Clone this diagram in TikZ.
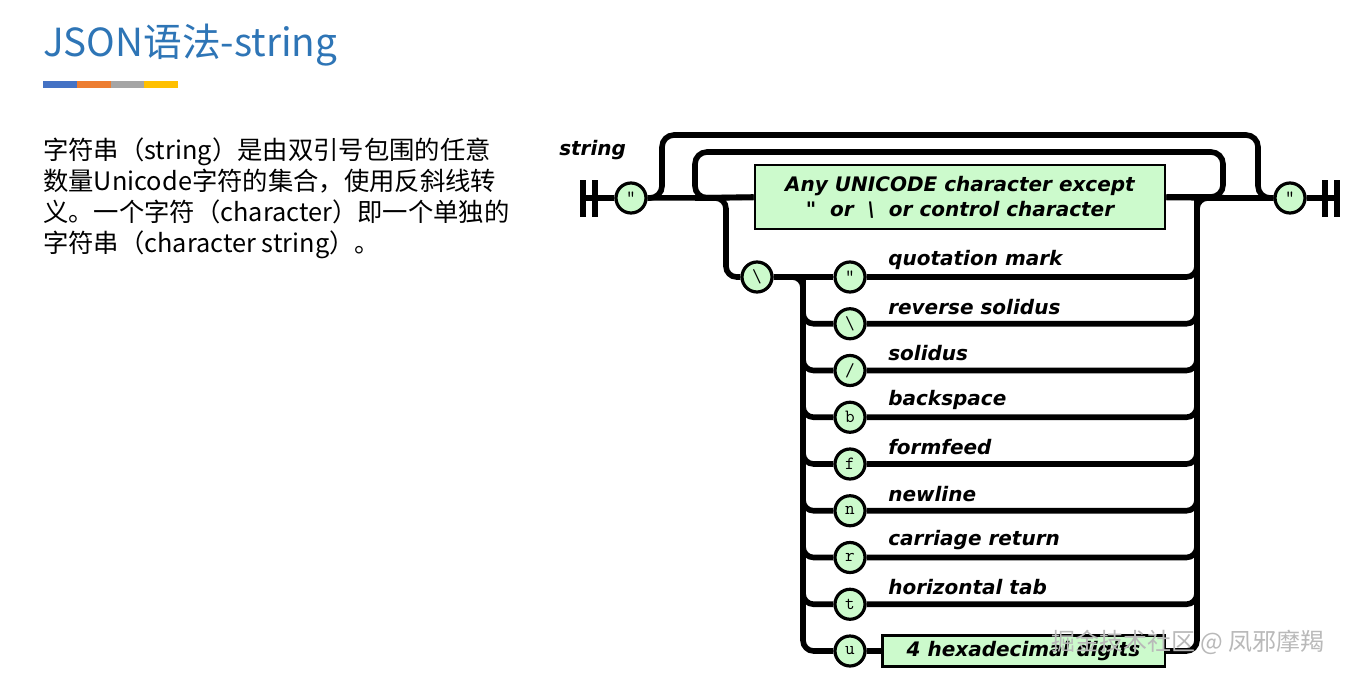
\documentclass[tikz,border=0pt]{standalone}
\usepackage{fontspec}
\setmainfont{Noto Sans CJK SC}
\newfontfamily\railfont{DejaVu Sans}
\usetikzlibrary{backgrounds}
\definecolor{titleblue}{RGB}{46,117,182}
\definecolor{barblue}{RGB}{68,114,196}
\definecolor{barorange}{RGB}{237,125,49}
\definecolor{bargray}{RGB}{165,165,165}
\definecolor{baryellow}{RGB}{255,192,0}
\definecolor{litgreen}{RGB}{204,250,204}

\begin{document}
\begin{tikzpicture}[x=0.75pt, y=-0.75pt,
	rail/.style={line width=4.2pt},
	bar/.style={line width=3.8pt},
	tok/.style={circle, draw, line width=2.4pt, fill=litgreen, minimum size=22.5pt, inner sep=0pt, font=\ttfamily\fontsize{14}{14}\selectfont},
	lit/.style={draw, line width=2pt, fill=litgreen, inner sep=0pt, align=center, font=\railfont\bfseries\itshape\fontsize{15}{18.75}\selectfont},
	lbl/.style={anchor=west, inner sep=0pt, font=\railfont\bfseries\itshape\fontsize{15}{18}\selectfont}]
	\useasboundingbox (0,0) rectangle (1352,678);
	% slide text
	\node[anchor=base west, inner sep=0pt, text=titleblue, font=\fontsize{29}{35}\selectfont] (title) at (43,56) {JSON语法-string};
	\foreach \c [count=\i] in {barblue,barorange,bargray,baryellow}
		\fill[\c] ({43+(\i-1)*33.75},81) rectangle ++(33.75,7);
	\node[anchor=north west, inner sep=0pt, align=left, font=\fontsize{19}{23.25}\selectfont] (desc) at (43,138)
		{字符串（string）是由双引号包围的任意\\数量Unicode字符的集合，使用反斜线转\\义。一个字符（character）即一个单独的\\字符串（character string）。};
	% diagram
	\node[lbl] (name) at (559,150) {string};
	\coordinate (st) at (583,198);
	\coordinate (en) at (1337,198);
	\draw[bar] (st) ++(0,-18) -- ++(0,37) (st) ++(12,-18) -- ++(0,37);
	\draw[bar] (en) ++(0,-18) -- ++(0,37) (en) ++(-12,-18) -- ++(0,37);
	\node[tok] (qL) at (631,198) {"};
	\node[tok] (qR) at (1290,198) {"};
	\node[lit, minimum width=307.5pt, minimum height=48pt] (any) at (960,197)
		{Any UNICODE character except\\"~~or~~\textbackslash~~or control character};
	\coordinate (ol) at (662,135);
	\coordinate (or) at (1258,198);
	\coordinate (il) at (1223,152);
	\coordinate (ir) at (695,198);
	\coordinate (ed) at (726,277);
	\coordinate (jl) at (803,277);
	\coordinate (jr) at (1197,198);
	\node[tok] (bsl) at (757,277) {\textbackslash};
	\foreach \c/\t [count=\i, evaluate=\i as \y using 277+(\i-1)*46.75] in
		{"/quotation mark, \textbackslash/reverse solidus, {/}/solidus, b/backspace,
		 f/formfeed, n/newline, r/carriage return, t/horizontal tab} {
		\node[tok] (e\i) at (850,\y) {\c};
		\node[lbl] (t\i) at (888,\y-17) {\t};
	}
	\node[tok] (eu) at (850,651) {u};
	\node[lit, minimum width=212pt, minimum height=23pt] (hex) at (1023.5,651) {4 hexadecimal digits};
	\begin{scope}[on background layer]
		\fill[white] (0,0) rectangle (1352,678);
		\draw[rail] (st) -- (qL) -- (any) -- (qR) -- (en);
		\draw[rail, rounded corners=9pt] (qL.east) -| (ol) -| (or) -- (qR);
		\draw[rail, rounded corners=9pt] (any.east) -| (il) -| (ir) -- (any.west);
		\draw[rail, rounded corners=8pt] (ir) -| (ed) -- (bsl);
		\draw[rail] (bsl) -- (e1);
		\draw[rail, rounded corners=8pt] (bsl.east) -| (jl |- eu) -- (eu) -- (hex);
		\foreach \i in {2,...,8}
			\draw[rail, rounded corners=8pt] (jl) |- (e\i);
		\foreach \i in {1,...,8}
			\draw[rail, rounded corners=8pt] (e\i) -| (jr);
		\draw[rail, rounded corners=8pt] (hex) -| (jr) -- (qR);
	\end{scope}
	% watermark
	\node[text=gray!55, font=\fontsize{18}{18}\selectfont] (wm) at (1188,642) {掘金技术社区 @ 凤邪摩羯};
\end{tikzpicture}
\end{document}
